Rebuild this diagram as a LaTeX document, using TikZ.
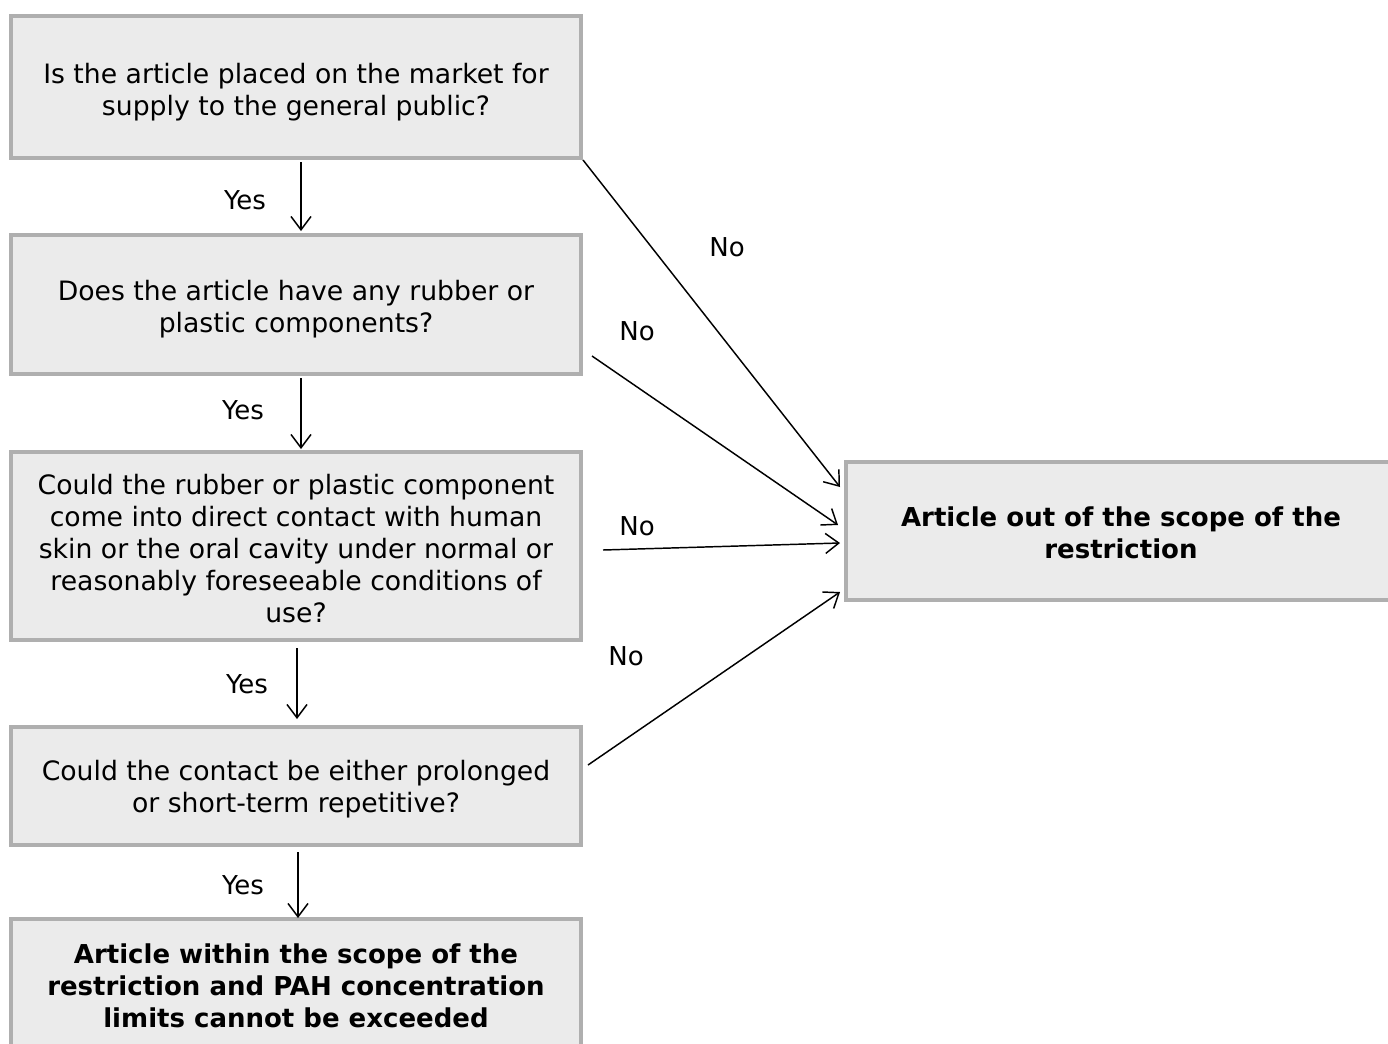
\documentclass[tikz,border=0pt]{standalone}
\usepackage{fontspec}
\setmainfont{DejaVu Sans}
\usetikzlibrary{arrows.meta}
\definecolor{boxfill}{HTML}{EBEBEB}
\definecolor{boxline}{HTML}{AFAFAF}
\begin{document}
\begin{tikzpicture}[x=0.75pt,y=-0.75pt,
  box/.style={draw=boxline, line width=3pt, fill=boxfill, inner sep=0pt, outer sep=0pt,
    minimum width=427.5pt},
  txt/.style={inner sep=0pt, align=center, font=\fontsize{20pt}{24pt}\selectfont},
  btxt/.style={txt, font=\fontsize{19.5pt}{24pt}\selectfont\bfseries},
  arr/.style={-{Straight Barb[length=10pt,width=15pt]}, line width=1.1pt},
  lab/.style={font=\fontsize{19.5pt}{24pt}\selectfont, inner sep=0pt}]
\useasboundingbox (0,0) rectangle (1388,1043);
\node[box, minimum height=106.5pt] (b1) at (296,87) {};
\node[box, minimum height=104.25pt] (b2) at (296,304.5) {};
\node[box, minimum height=141pt] (b3) at (296,546) {};
\node[box, minimum height=88.5pt] (b4) at (296,786) {};
\node[box, minimum height=100.5pt] (b5) at (296,986) {};
\node[box, minimum height=103.5pt, minimum width=412.5pt] (out) at (1121,531) {};
\node[txt] (t1) at ([yshift=-3.5pt]b1.center) {Is the article placed on the market for\\supply to the general public?};
\node[txt] (t2) at ([yshift=-3.5pt]b2.center) {Does the article have any rubber or\\plastic components?};
\node[txt] (t3) at ([yshift=-2pt]b3.center) {Could the rubber or plastic component\\come into direct contact with human\\skin or the oral cavity under normal or\\reasonably foreseeable conditions of\\use?};
\node[txt] (t4) at ([yshift=-2pt]b4.center) {Could the contact be either prolonged\\or short-term repetitive?};
\node[btxt] (t5) at (b5.center) {Article within the scope of the\\restriction and PAH concentration\\limits cannot be exceeded};
\node[btxt] (tout) at ([yshift=-1.5pt]out.center) {Article out of the scope of the\\restriction};
% arrow end points
\coordinate (y1s) at (301,162); \coordinate (y1e) at (301,231);
\coordinate (y2s) at (301,378); \coordinate (y2e) at (301,449);
\coordinate (y3s) at (297,648); \coordinate (y3e) at (297,719);
\coordinate (y4s) at (298,852); \coordinate (y4e) at (298,918);
\coordinate (n1s) at (583,160); \coordinate (n1e) at (840,487);
\coordinate (n2s) at (592,356); \coordinate (n2e) at (838,525);
\coordinate (n3s) at (603,550); \coordinate (n3e) at (840,543);
\coordinate (n4s) at (588,765); \coordinate (n4e) at (840,592);
\draw[arr] (y1s) -- (y1e);
\draw[arr] (y2s) -- (y2e);
\draw[arr] (y3s) -- (y3e);
\draw[arr] (y4s) -- (y4e);
\draw[arr] (n1s) -- (n1e);
\draw[arr] (n2s) -- (n2e);
\draw[arr] (n3s) -- (n3e);
\draw[arr] (n4s) -- (n4e);
\node[lab] (ly1) at (245,200) {Yes};
\node[lab] (ly2) at (243,410) {Yes};
\node[lab] (ly3) at (247,684) {Yes};
\node[lab] (ly4) at (243,885) {Yes};
\node[lab] (ln1) at (727,247) {No};
\node[lab] (ln2) at (637,331) {No};
\node[lab] (ln3) at (637,526) {No};
\node[lab] (ln4) at (626,656) {No};
\end{tikzpicture}
\end{document}
